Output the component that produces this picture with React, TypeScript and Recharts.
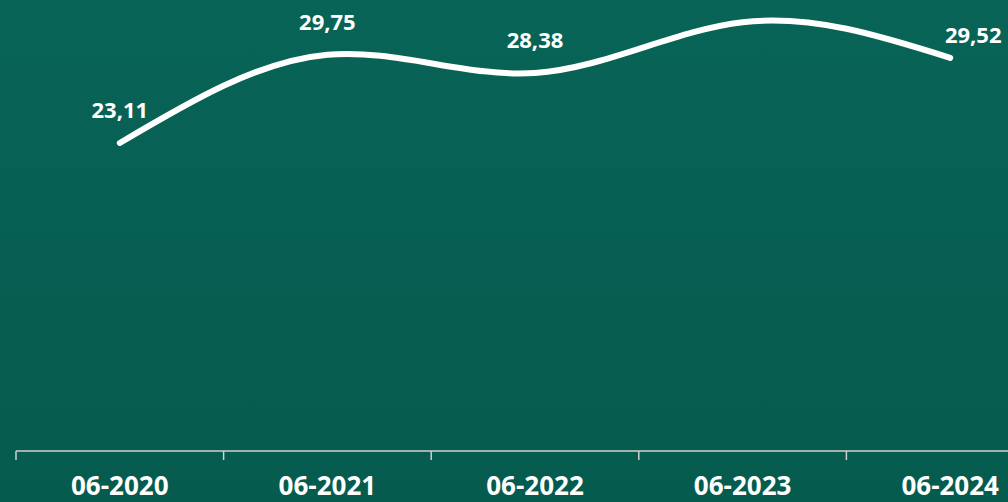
import { LineChart, Line, XAxis, YAxis, LabelList } from 'recharts';

const months = ['06-2020', '06-2021', '06-2022', '06-2023', '06-2024'];
const values = [23.11, 29.75, 28.38, 32.2, 29.52];
const boundaryTicks = [0, 1, 2, 3, 4, 5];

const data = months.map((month, i) => ({ month, slot: i, value: values[i] }));

const fmt = (v: number) => v.toFixed(2).replace('.', ',');

function ValueLabel(props: any) {
  const { x, y, value, index } = props;
  const last = index === values.length - 1;
  const ty = last ? y - 15 : y - 25;
  // the reference crops the label of the highest point off the top edge
  if (ty < 30) return null;
  return (
    <text
      x={last ? x + 23 : x}
      y={ty}
      textAnchor="middle"
      fill="#ffffff"
      fontSize={22}
      fontWeight="bold"
      fontFamily="'Open Sans', sans-serif"
    >
      {fmt(value)}
    </text>
  );
}

export default function App() {
  return (
    <div
      style={{
        position: 'fixed', left: 0, top: 0, width: 1008, height: 502, overflow: 'hidden',
        background: 'linear-gradient(180deg, #086457 0%, #055b4e 100%)',
      }}
    >
      <div style={{ position: 'absolute', left: 0, top: -15 }}>
        <LineChart width={1070} height={517} data={data} margin={{ top: 0, right: 16, left: 16, bottom: 50 }}>
          {/* boundary ticks between categories, like the source chart */}
          <XAxis
            xAxisId="grid"
            dataKey="slot"
            type="number"
            domain={[0, 5]}
            allowDataOverflow
            ticks={boundaryTicks}
            tick={() => <g />}
            height={1}
            tickSize={9}
            stroke="#d0d0d0"
            strokeWidth={1.5}
          />
          <XAxis
            xAxisId="cat"
            dataKey="month"
            scale="band"
            height={1}
            axisLine={false}
            tickLine={false}
            tickSize={0}
            tickMargin={27}
            tick={{ fill: '#ffffff', fontSize: 26, fontWeight: 'bold', fontFamily: "'Open Sans', sans-serif" }}
          />
          <YAxis hide domain={[0, 35]} />
          <Line
            xAxisId="cat"
            type="natural"
            dataKey="value"
            stroke="#ffffff"
            strokeWidth={6}
            strokeLinecap="round"
            dot={false}
            isAnimationActive={false}
          >
            <LabelList dataKey="value" content={<ValueLabel />} />
          </Line>
        </LineChart>
      </div>
    </div>
  );
}
